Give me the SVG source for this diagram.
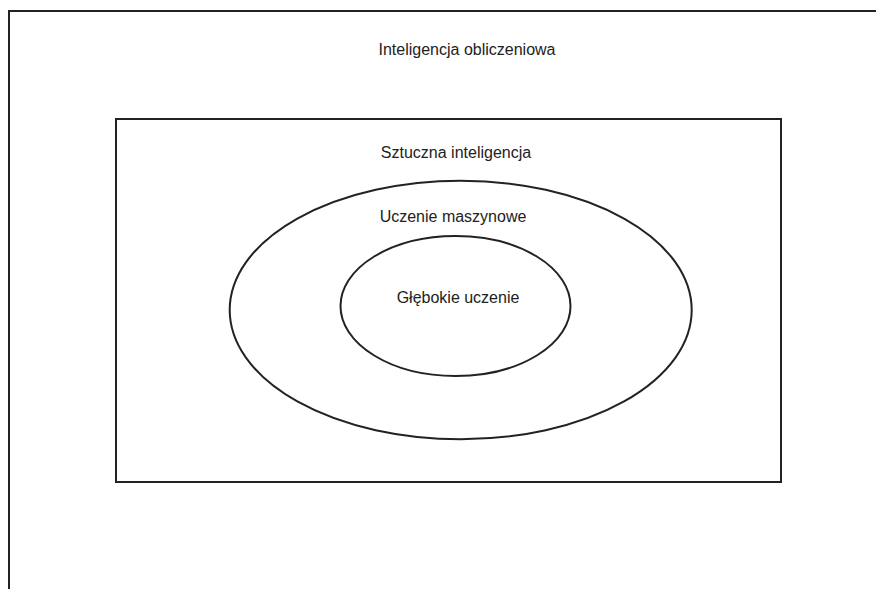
<svg xmlns="http://www.w3.org/2000/svg" width="876" height="589" viewBox="0 0 876 589">
<style>
.ln{fill:none;stroke:#222;stroke-width:2}
.t{font-family:"Liberation Sans",Arial,sans-serif;font-size:16px;fill:#222;text-anchor:middle}
</style>
<rect width="876" height="589" fill="#fff"/>
<g id="computational-intelligence">
<path class="ln" d="M9,600 V11 H890"/>
<text class="t" x="467" y="55">Inteligencja obliczeniowa</text>
</g>
<g id="artificial-intelligence">
<rect class="ln" x="116" y="119" width="665" height="363"/>
<text class="t" x="456" y="157.5">Sztuczna inteligencja</text>
</g>
<g id="machine-learning">
<ellipse class="ln" cx="460.7" cy="310" rx="231" ry="129.3"/>
<text class="t" x="453" y="221.5">Uczenie maszynowe</text>
</g>
<g id="deep-learning">
<ellipse class="ln" cx="455.5" cy="306" rx="115" ry="70"/>
<text class="t" x="458" y="302.5">Głębokie uczenie</text>
</g>
<g id="connectors"/>
</svg>
